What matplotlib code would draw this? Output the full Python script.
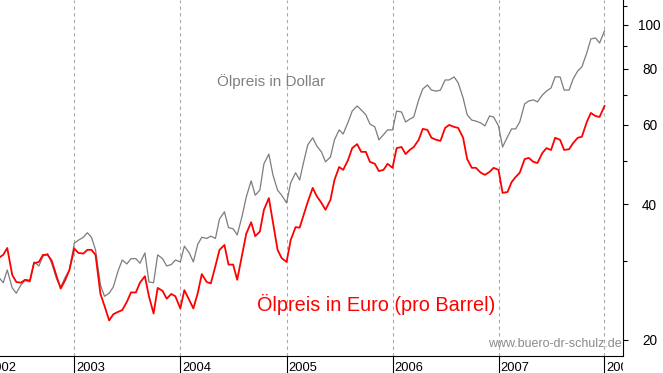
import matplotlib
matplotlib.use("Agg")
import matplotlib.pyplot as plt
import matplotlib.transforms as mtransforms
from matplotlib.ticker import NullFormatter
import pandas as pd

plt.rcParams["font.family"] = ["Liberation Sans", "DejaVu Sans"]

# semi-monthly samples, Apr 2002 .. Jan 2008
DATES = pd.date_range("2002-04-15", periods=138, freq="SMS")

# oil price in USD per barrel
USD = [27.6, 26.8, 28.6, 26.1, 25.4, 26.5, 27.1, 26.9, 29.8, 29.2,
       30.7, 31.1, 29.6, 27.3, 26.2, 27.6, 28.6, 32.8, 33.3, 33.8,
       34.6, 33.8, 31.7, 26.5, 25.0, 25.4, 26.2, 28.5, 30.1, 29.5,
       30.3, 30.3, 29.6, 31.2, 26.9, 26.8, 30.9, 30.3, 29.2, 29.4,
       30.1, 29.8, 32.3, 31.2, 29.8, 32.6, 33.8, 33.6, 34.0, 33.6,
       37.1, 38.5, 35.5, 35.3, 34.2, 37.7, 41.5, 45.1, 41.9, 43.0,
       49.2, 51.7, 46.5, 43.0, 41.9, 40.3, 44.6, 47.0, 45.3, 49.7,
       54.2, 56.2, 53.9, 52.3, 49.7, 50.9, 55.6, 58.5, 57.3, 60.9,
       64.4, 66.1, 64.8, 63.2, 60.3, 59.4, 55.6, 57.1, 58.5, 58.5,
       64.4, 64.1, 60.9, 61.8, 62.5, 68.2, 72.1, 73.6, 71.7, 71.3,
       71.7, 75.5, 75.5, 76.7, 74.4, 68.9, 63.2, 61.5, 61.2, 60.6,
       59.7, 62.8, 62.5, 59.7, 53.6, 56.5, 58.8, 58.8, 60.9, 66.8,
       67.8, 68.2, 67.5, 69.9, 71.3, 72.5, 76.7, 76.7, 71.7, 71.7,
       75.9, 79.1, 80.7, 86.7, 93.1, 93.6, 91.2, 97.0]

# oil price in EUR per barrel
EUR = [30.4, 30.9, 32.0, 27.9, 26.9, 26.8, 27.2, 27.1, 29.6, 29.8,
       30.9, 30.9, 30.0, 27.7, 26.0, 27.2, 28.6, 31.9, 31.2, 31.1,
       31.7, 31.7, 30.9, 25.3, 23.8, 22.1, 22.8, 23.1, 23.3, 24.3,
       25.5, 25.5, 26.8, 27.7, 25.0, 22.9, 26.1, 25.7, 24.7, 25.3,
       25.0, 23.5, 25.8, 24.5, 23.5, 25.4, 28.0, 26.9, 26.7, 29.2,
       31.7, 32.5, 29.4, 29.4, 27.2, 30.9, 34.4, 36.5, 34.0, 34.8,
       38.9, 41.3, 36.5, 31.7, 30.4, 29.8, 33.3, 35.6, 35.5, 37.9,
       40.5, 43.5, 41.7, 40.3, 38.9, 40.9, 45.3, 48.4, 47.7, 50.2,
       53.3, 54.4, 52.3, 52.3, 49.7, 49.2, 47.4, 47.7, 49.2, 48.2,
       53.3, 53.6, 51.7, 52.8, 53.6, 55.6, 58.8, 58.5, 56.2, 55.6,
       55.3, 59.1, 60.0, 59.4, 59.1, 56.2, 50.4, 48.2, 48.2, 47.0,
       46.5, 47.2, 48.2, 47.7, 42.4, 42.6, 44.8, 46.0, 47.0, 50.4,
       50.7, 49.7, 49.4, 52.0, 53.3, 52.8, 56.2, 55.6, 52.8, 53.0,
       54.7, 56.2, 56.5, 60.9, 63.8, 62.8, 62.5, 66.1]

YEARS = [2003, 2004, 2005, 2006, 2007, 2008]
YEAR_LABELS = ["2002", "2003", "2004", "2005", "2006", "2007", "2008"]
YEAR_LABEL_POS = ["2002-03-01", "2003-01-01", "2004-01-01", "2005-01-01",
                  "2006-01-01", "2007-01-01", "2008-01-01"]
Y_MAJOR = [20, 40, 60, 80, 100]
Y_MINOR = [30, 50, 70, 90, 110]

W, H = 663, 373
X0, X1 = pd.Timestamp("2002-04-20"), pd.Timestamp("2008-03-03")

fig = plt.figure(figsize=(W / 100, H / 100), dpi=100)
ax = fig.add_axes([0, 17 / H, 622.5 / W, 1 - 17 / H])

ax.plot(DATES, USD, color="#7c7c7c", lw=0.9)
ax.plot(DATES, EUR, color="#ff0000", lw=1.3)

ax.set_yscale("log")
ax.set_ylim(18.43, 113.6)
ax.set_xlim(X0, X1)

# right-hand price axis
ax.yaxis.tick_right()
ax.set_yticks(Y_MAJOR, labels=[str(v) for v in Y_MAJOR])
ax.set_yticks(Y_MINOR, minor=True)
ax.yaxis.set_minor_formatter(NullFormatter())
ax.tick_params(axis="y", which="major", direction="out", length=3.6,
               width=0.8, pad=16, labelsize=9.8)
ax.tick_params(axis="y", which="minor", direction="out", length=3.0,
               width=0.8)
plt.setp(ax.yaxis.get_majorticklabels(), ha="center")

# years along the bottom
ax.set_xticks([pd.Timestamp(f"{y}-01-01") for y in YEARS])
ax.set_xticklabels([])
ax.tick_params(axis="x", direction="out", length=12.5, width=0.8)
ax.xaxis.set_minor_locator(plt.NullLocator())
ax.grid(axis="x", color="#a8a8a8", linestyle=(0, (3, 3)), lw=0.8)

for side in ["left", "top"]:
    ax.spines[side].set_visible(False)
for side in ["bottom", "right"]:
    ax.spines[side].set_linewidth(0.8)

ax.text(pd.Timestamp("2004-05-08"), 73.2, "Ölpreis in Dollar",
        color="#808080", fontsize=11, va="baseline")
ax.text(pd.Timestamp("2004-09-22"), 23.2, "Ölpreis in Euro (pro Barrel)",
        color="#ff0000", fontsize=14.3, va="baseline")
ax.text(0.999, 19.3, "www.buero-dr-schulz.de", color="#8a8a8a",
        fontsize=9, ha="right", va="baseline",
        transform=ax.get_yaxis_transform())

# strip under the axis for clipped year labels
strip = fig.add_axes([0, 0, 622.5 / W, 17 / H])
strip.set_xlim(X0, X1)
strip.axis("off")
shift = mtransforms.offset_copy(strip.get_xaxis_transform(), fig=fig,
                                x=2, y=0, units="dots")
for pos, lab in zip(YEAR_LABEL_POS, YEAR_LABELS):
    strip.text(pd.Timestamp(pos), 0.12, lab, fontsize=9.3, va="baseline",
               ha="left", transform=shift, clip_on=True)

fig.savefig("out.png", dpi=100)
